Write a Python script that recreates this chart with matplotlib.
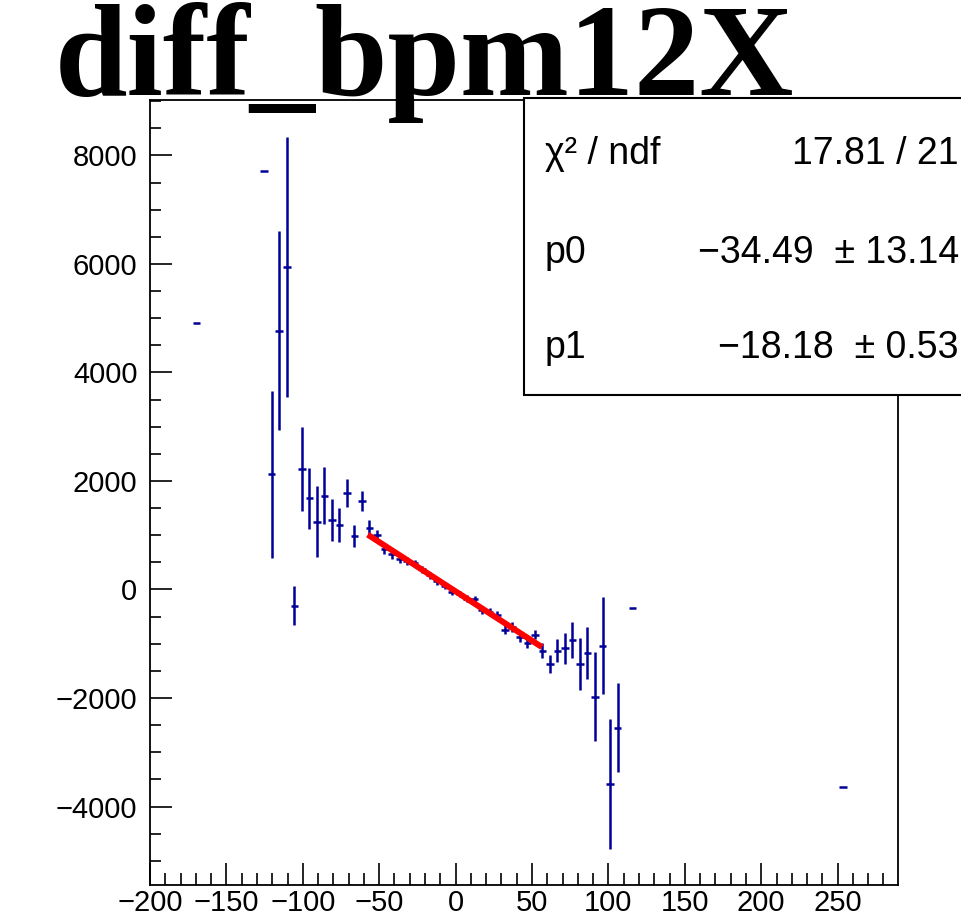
import matplotlib
matplotlib.use('Agg')
import matplotlib.pyplot as plt
from matplotlib.ticker import MultipleLocator
from matplotlib.patches import Rectangle
import numpy as np

# ---------------- data ----------------
x_vals = [-169.55, -125.27, -120.35, -115.43, -110.51, -105.59, -100.67, -95.75,
          -90.83, -85.91, -80.99, -76.07, -71.15, -66.23, -61.31, -56.39, -51.47,
          -46.55, -41.63, -36.71, -31.79, -26.87, -21.95, -17.03, -12.11, -7.19,
          -2.27, 2.65, 7.57, 12.49, 17.41, 22.33, 27.25, 32.17, 37.09, 42.01,
          46.93, 51.85, 56.77, 61.69, 66.61, 71.53, 76.45, 81.37, 86.29, 91.21,
          96.13, 101.05, 105.97, 115.81, 253.57]
y_vals = [4920, 7720, 2124, 4770, 5950, -299, 2221, 1681,
          1250, 1729, 1281, 1189, 1773, 986, 1631, 1128, 1005,
          740, 650, 560, 520, 480, 370, 260, 150, 60,
          -40, -80, -170, -180, -380, -420, -470, -740, -690, -880,
          -990, -830, -1128, -1373, -1128, -1084, -931, -1373, -1176, -1976,
          -1035, -3585, -2547, -347, -3641]
y_errs = [0, 0, 1535, 1830, 2400, 360, 770, 560,
          655, 530, 385, 310, 260, 210, 190, 145, 100,
          90, 85, 80, 75, 70, 65, 60, 60, 60,
          60, 60, 60, 65, 65, 70, 75, 80, 85, 90,
          95, 90, 140, 170, 215, 285, 340, 485, 480, 825,
          900, 1200, 825, 0, 0]
bin_half_width = 2.46

fit_p0 = -34.49
fit_p1 = -18.18
fit_range = (-57.5, 56.5)

title_text = "diff_bpm12X"
stat_labels = ["\u03c7\u00b2 / ndf", "p0", "p1"]
stat_values = ["17.81 / 21", "\u221234.49  \u00b1 13.14", "\u221218.18  \u00b1 0.53"]

# ---------------- figure ----------------
W, H = 961, 918
fig = plt.figure(figsize=(W / 100, H / 100), dpi=100)
fig.patch.set_facecolor('white')

ax_l, ax_r, ax_t, ax_b = 150, 898, 100, 885
ax = fig.add_axes([ax_l / W, 1 - ax_b / H, (ax_r - ax_l) / W, (ax_b - ax_t) / H])

ax.errorbar(x_vals, y_vals, yerr=y_errs, xerr=bin_half_width, fmt='none',
            ecolor='#000099', elinewidth=1.8, capsize=0, zorder=2)

xf = np.linspace(fit_range[0], fit_range[1], 200)
ax.plot(xf, fit_p0 + fit_p1 * xf, color='#ff0000', lw=4.3, solid_capstyle='butt', zorder=3)

ax.set_xlim(-200, 289.5)
ax.set_ylim(-5447, 9023)

ax.xaxis.set_major_locator(MultipleLocator(50))
ax.xaxis.set_minor_locator(MultipleLocator(10))
ax.yaxis.set_major_locator(MultipleLocator(2000))
ax.yaxis.set_minor_locator(MultipleLocator(500))

tick_font = 'Liberation Sans'
ax.tick_params(axis='both', which='both', direction='in', top=False, right=False,
               width=1.2, colors='black')
ax.tick_params(axis='x', which='major', length=16, pad=3, labelsize=21)
ax.tick_params(axis='x', which='minor', length=9)
ax.tick_params(axis='y', which='major', length=16, pad=9, labelsize=21)
ax.tick_params(axis='y', which='minor', length=8)
for lab in ax.get_xticklabels() + ax.get_yticklabels():
    lab.set_fontfamily(tick_font)

for sp in ax.spines.values():
    sp.set_linewidth(1.3)
    sp.set_color('black')

# ---------------- stats box ----------------
bx0, by0, by1 = 524, 97.7, 395
box = Rectangle((bx0 / W, 1 - by1 / H), (980 - bx0) / W, (by1 - by0) / H,
                transform=fig.transFigure, facecolor='white', edgecolor='black',
                lw=1.5, clip_on=False, zorder=1.5)
fig.patches.append(box)

baselines = [164.3, 263.3, 358.3]
for lab, val, yb in zip(stat_labels, stat_values, baselines):
    fig.text(545 / W, 1 - yb / H, lab, fontsize=27, family=['Liberation Sans', 'DejaVu Sans'],
             ha='left', va='baseline', zorder=4)
    fig.text(959 / W, 1 - yb / H, val, fontsize=27, family=['Liberation Sans', 'DejaVu Sans'],
             ha='right', va='baseline', zorder=4)

# ---------------- title ----------------
fig.text(55 / W, 1 - 95 / H, title_text, fontsize=94, family='Liberation Serif',
         fontweight='bold', ha='left', va='baseline', zorder=5)

fig.savefig('out.png', dpi=100)
